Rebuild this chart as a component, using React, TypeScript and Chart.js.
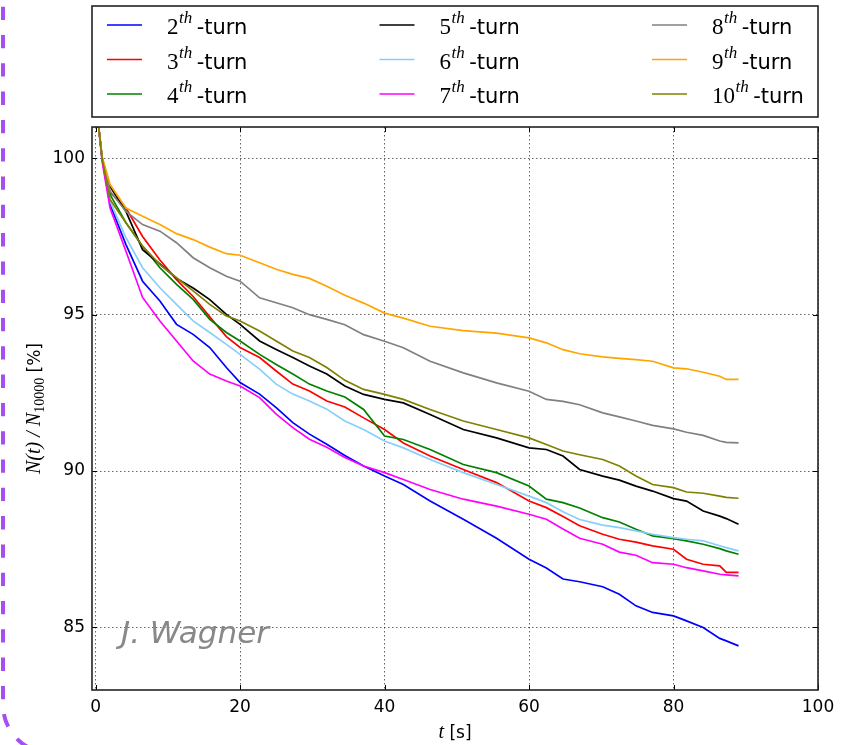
import React, { useEffect, useRef } from 'react';
import { Chart, registerables } from 'chart.js';

Chart.register(...registerables);

// time axis (s)
const times = [0, 0.9, 2, 4.2, 6.5, 8.9, 11.2, 13.5, 15.8, 18.1, 20, 22.7, 25, 27.3, 29.6, 32, 34.5, 37.1, 40, 42.6, 46.3, 50.9, 55.5, 60, 62.4, 64.7, 67, 70.2, 72.5, 74.8, 77.1, 80, 81.8, 84.1, 86.4, 87.3, 89];

// N(t)/N_10000 [%] for each turn
const turn2 = [101.9, 100, 98.52, 97.24, 96.07, 95.44, 94.69, 94.37, 93.95, 93.31, 92.83, 92.46, 92.03, 91.55, 91.18, 90.86, 90.5, 90.16, 89.84, 89.57, 89.04, 88.46, 87.85, 87.18, 86.9, 86.55, 86.46, 86.3, 86.06, 85.69, 85.48, 85.37, 85.21, 85.0, 84.65, 84.57, 84.41];
const turn3 = [101.9, 100, 98.9, 98.41, 97.5, 96.75, 96.12, 95.58, 94.93, 94.3, 93.95, 93.63, 93.2, 92.78, 92.56, 92.24, 92.05, 91.7, 91.33, 90.9, 90.48, 90.05, 89.63, 89.04, 88.83, 88.55, 88.25, 87.98, 87.82, 87.73, 87.61, 87.5, 87.18, 87.02, 86.97, 86.76, 86.76];
const turn4 = [101.9, 100, 98.84, 97.94, 97.19, 96.5, 95.97, 95.49, 94.85, 94.43, 94.16, 93.73, 93.41, 93.1, 92.78, 92.56, 92.37, 91.97, 91.12, 91.01, 90.69, 90.21, 89.95, 89.52, 89.1, 88.99, 88.82, 88.51, 88.37, 88.14, 87.93, 87.84, 87.77, 87.66, 87.52, 87.45, 87.34];
const turn5 = [101.9, 100, 99.1, 98.3, 97.08, 96.62, 96.16, 95.85, 95.48, 95.01, 94.69, 94.16, 93.89, 93.63, 93.36, 93.1, 92.72, 92.45, 92.29, 92.18, 91.81, 91.33, 91.06, 90.74, 90.69, 90.48, 90.05, 89.84, 89.71, 89.52, 89.36, 89.12, 89.04, 88.72, 88.56, 88.48, 88.3];
const turn6 = [101.9, 100, 98.63, 97.46, 96.5, 95.86, 95.33, 94.8, 94.43, 94.05, 93.73, 93.26, 92.78, 92.46, 92.24, 91.98, 91.6, 91.33, 90.96, 90.74, 90.37, 89.95, 89.57, 89.2, 88.99, 88.7, 88.45, 88.27, 88.19, 88.09, 87.98, 87.87, 87.82, 87.77, 87.61, 87.55, 87.45];
const turn7 = [102, 99.9, 98.41, 97.03, 95.55, 94.8, 94.16, 93.52, 93.1, 92.88, 92.72, 92.35, 91.82, 91.39, 91.02, 90.76, 90.43, 90.16, 89.95, 89.73, 89.41, 89.1, 88.88, 88.62, 88.46, 88.15, 87.85, 87.66, 87.41, 87.31, 87.07, 87.02, 86.91, 86.81, 86.7, 86.68, 86.65];
const turn8 = [101.9, 100, 98.95, 98.3, 97.88, 97.67, 97.3, 96.82, 96.5, 96.23, 96.07, 95.54, 95.38, 95.22, 95.0, 94.85, 94.68, 94.36, 94.15, 93.94, 93.51, 93.14, 92.82, 92.55, 92.29, 92.23, 92.12, 91.86, 91.73, 91.6, 91.46, 91.35, 91.24, 91.14, 90.96, 90.92, 90.9];
const turn9 = [101.9, 100.05, 99.16, 98.41, 98.15, 97.88, 97.59, 97.4, 97.16, 96.95, 96.9, 96.66, 96.45, 96.29, 96.16, 95.91, 95.62, 95.37, 95.05, 94.89, 94.63, 94.49, 94.41, 94.26, 94.1, 93.88, 93.75, 93.65, 93.6, 93.56, 93.51, 93.3, 93.27, 93.16, 93.03, 92.93, 92.93];
const turn10 = [101.9, 100, 98.68, 97.94, 97.19, 96.6, 96.18, 95.76, 95.33, 94.96, 94.8, 94.48, 94.16, 93.84, 93.63, 93.31, 92.9, 92.61, 92.45, 92.29, 91.97, 91.6, 91.33, 91.06, 90.85, 90.64, 90.52, 90.37, 90.16, 89.84, 89.57, 89.47, 89.33, 89.29, 89.2, 89.16, 89.13];

const turnNumbers = ['2', '3', '4', '5', '6', '7', '8', '9', '10'];
const turnSeries = [turn2, turn3, turn4, turn5, turn6, turn7, turn8, turn9, turn10];
const turnColors = ['#0000ff', '#ff0000', '#008000', '#000000', '#87cefa', '#ff00ff', '#808080', '#ffa500', '#808000'];

const xTickStep = 20;
const yTickStep = 5;
const xLabel = 't';
const xUnit = ' [s]';
const yLabelMain = 'N(t) / N';
const yLabelSub = '10000';
const yUnit = ' [%]';
const watermark = 'J. Wagner';

const decorPlugin = {
  id: 'decor',
  afterDraw(chart: any) {
    const ctx: CanvasRenderingContext2D = chart.ctx;
    const ca = chart.chartArea;
    const xs = chart.scales.x;
    const ys = chart.scales.y;
    ctx.save();

    // inward ticks on all four sides
    ctx.strokeStyle = '#000';
    ctx.lineWidth = 1;
    ctx.beginPath();
    xs.ticks.forEach((t: any) => {
      const px = Math.round(xs.getPixelForValue(t.value)) + 0.5;
      ctx.moveTo(px, ca.bottom);
      ctx.lineTo(px, ca.bottom - 5);
      ctx.moveTo(px, ca.top);
      ctx.lineTo(px, ca.top + 5);
    });
    ys.ticks.forEach((t: any) => {
      const py = Math.round(ys.getPixelForValue(t.value)) + 0.5;
      ctx.moveTo(ca.left, py);
      ctx.lineTo(ca.left + 5, py);
      ctx.moveTo(ca.right, py);
      ctx.lineTo(ca.right - 5, py);
    });
    ctx.stroke();

    // frame
    ctx.strokeStyle = '#222';
    ctx.lineWidth = 1.6;
    ctx.strokeRect(ca.left, ca.top, ca.right - ca.left, ca.bottom - ca.top);

    // watermark
    ctx.fillStyle = '#888888';
    ctx.font = 'italic 31px "DejaVu Sans"';
    ctx.textBaseline = 'alphabetic';
    ctx.textAlign = 'left';
    ctx.fillText(watermark, 121, 643);

    // legend box
    ctx.strokeStyle = '#222';
    ctx.lineWidth = 1.6;
    ctx.strokeRect(ca.left, 6, ca.right - ca.left, 111);
    for (let i = 0; i < turnNumbers.length; i++) {
      const col = Math.floor(i / 3);
      const row = i % 3;
      const lx = 107 + col * 272.5;
      const ly = 25 + row * 34.5;
      ctx.strokeStyle = turnColors[i];
      ctx.lineWidth = 1.7;
      ctx.beginPath();
      ctx.moveTo(lx, ly);
      ctx.lineTo(lx + 35, ly);
      ctx.stroke();
      const tx = 167 + col * 272.5;
      const base = 34.3 + row * 34.5;
      ctx.fillStyle = '#000';
      ctx.font = '23px "Liberation Serif"';
      ctx.fillText(turnNumbers[i], tx, base);
      const w1 = ctx.measureText(turnNumbers[i]).width;
      ctx.font = 'italic 17px "Liberation Serif"';
      ctx.fillText('th', tx + w1 + 0.5, base - 11);
      const w2 = ctx.measureText('th').width;
      ctx.font = '21px "DejaVu Sans"';
      ctx.fillText('-turn', tx + w1 + w2 + 5, base);
    }

    // x title
    ctx.fillStyle = '#000';
    ctx.font = 'italic 20px "Liberation Serif"';
    const wt = ctx.measureText(xLabel).width;
    ctx.font = '17px "DejaVu Sans"';
    const wu = ctx.measureText(xUnit).width;
    const cx = (ca.left + ca.right) / 2;
    const sx = cx - (wt + wu) / 2;
    ctx.font = 'italic 20px "Liberation Serif"';
    ctx.fillText(xLabel, sx, 738);
    ctx.font = '17px "DejaVu Sans"';
    ctx.fillText(xUnit, sx + wt, 738);

    // y title (rotated)
    ctx.save();
    ctx.translate(40, (ca.top + ca.bottom) / 2);
    ctx.rotate(-Math.PI / 2);
    const pieces = [
      { t: yLabelMain, f: 'italic 20px "Liberation Serif"', dy: 0 },
      { t: yLabelSub, f: '14px "Liberation Serif"', dy: 4 },
      { t: yUnit, f: '17px "DejaVu Sans"', dy: 0 },
    ];
    let total = 0;
    const widths = pieces.map((p) => {
      ctx.font = p.f;
      const w = ctx.measureText(p.t).width;
      total += w;
      return w;
    });
    let px = -total / 2;
    pieces.forEach((p, i) => {
      ctx.font = p.f;
      ctx.fillText(p.t, px, p.dy);
      px += widths[i];
    });
    ctx.restore();

    ctx.restore();
  },
};

export default function App() {
  const canvasRef = useRef<HTMLCanvasElement | null>(null);

  useEffect(() => {
    const canvas = canvasRef.current;
    if (!canvas) return;
    const datasets = turnSeries.map((vals, i) => ({
      label: turnNumbers[i] + 'th-turn',
      data: times.map((t, k) => ({ x: t, y: vals[k] })),
      borderColor: turnColors[i],
      backgroundColor: turnColors[i],
      borderWidth: 1.7,
      pointRadius: 0,
      tension: 0,
      fill: false,
      order: turnSeries.length - i,
    }));
    const tickFont = { family: '"DejaVu Sans"', size: 17 };
    const chart = new Chart(canvas, {
      type: 'line',
      data: { datasets },
      options: {
        animation: false,
        responsive: false,
        devicePixelRatio: 1,
        layout: { padding: { left: 0, top: 127, right: 28, bottom: 0 } },
        plugins: { legend: { display: false }, tooltip: { enabled: false } },
        scales: {
          x: {
            type: 'linear',
            min: -0.5,
            max: 100,
            ticks: { stepSize: xTickStep, includeBounds: false, font: tickFont, color: '#000', padding: 7, maxRotation: 0 },
            grid: { color: 'rgba(0,0,0,0.6)', lineWidth: 1, drawTicks: false },
            border: { display: false, dash: [1.5, 2.5] },
            afterFit: (s: any) => { s.height = 55; },
          },
          y: {
            type: 'linear',
            min: 83,
            max: 101,
            ticks: { stepSize: yTickStep, includeBounds: false, font: tickFont, color: '#000', padding: 7 },
            grid: { color: 'rgba(0,0,0,0.6)', lineWidth: 1, drawTicks: false },
            border: { display: false, dash: [1.5, 2.5] },
            afterFit: (s: any) => { s.width = 92; },
          },
        },
      },
      plugins: [decorPlugin],
    } as any);
    return () => chart.destroy();
  }, []);

  return (
    <div style={{ position: 'absolute', left: 0, top: 0, width: 846, height: 745, background: '#fff', overflow: 'hidden' }}>
      <canvas ref={canvasRef} width={846} height={745} style={{ display: 'block', width: 846, height: 745 }} />
      <svg width={846} height={745} style={{ position: 'absolute', left: 0, top: 0, pointerEvents: 'none' }}>
        <path d="M 3 -21.6 L 3 705 A 48 48 0 0 0 51 753" fill="none" stroke="#a64ff0" strokeWidth={4} strokeDasharray="13.3 15" />
      </svg>
    </div>
  );
}
